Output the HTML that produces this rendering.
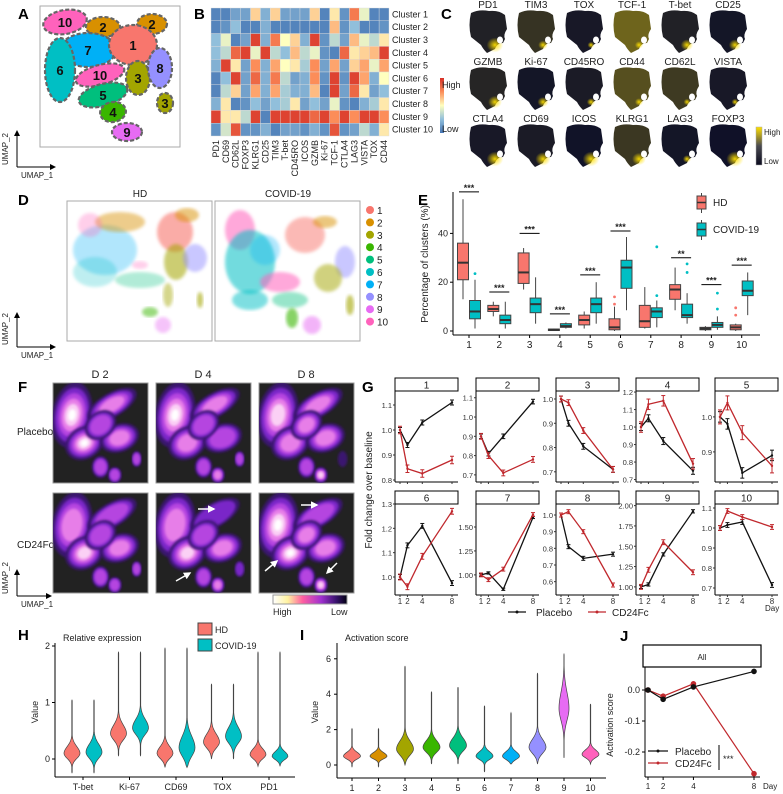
<!DOCTYPE html>
<html><head><meta charset="utf-8">
<style>
html,body{margin:0;padding:0;background:#fff;}
svg{display:block;font-family:"Liberation Sans",Arial,sans-serif;}
</style></head>
<body>
<svg id="fig" width="783" height="794" viewBox="0 0 783 794" xmlns="http://www.w3.org/2000/svg">
<defs>
  <linearGradient id="heatLeg" x1="0" y1="1" x2="0" y2="0">
    <stop offset="0" stop-color="#4575B4"/><stop offset="0.25" stop-color="#91BFDB"/><stop offset="0.5" stop-color="#FFFFBF"/><stop offset="0.75" stop-color="#FC8D59"/><stop offset="1" stop-color="#D73027"/>
  </linearGradient>
  <linearGradient id="featLeg" x1="0" y1="1" x2="0" y2="0">
    <stop offset="0" stop-color="#0a0a1e"/><stop offset="0.5" stop-color="#4a4a50"/><stop offset="1" stop-color="#FFE000"/>
  </linearGradient>
  <linearGradient id="densLeg" x1="0" y1="0" x2="1" y2="0">
    <stop offset="0" stop-color="#ffffff"/><stop offset="0.2" stop-color="#FFF3A0"/><stop offset="0.4" stop-color="#FF5FA0"/><stop offset="0.65" stop-color="#A030D0"/><stop offset="0.85" stop-color="#3A1470"/><stop offset="1" stop-color="#000010"/>
  </linearGradient>
  <radialGradient id="yglow"><stop offset="0" stop-color="#FFE000" stop-opacity="0.95"/><stop offset="1" stop-color="#FFE000" stop-opacity="0"/></radialGradient>
  <filter id="soft"><feGaussianBlur stdDeviation="1.2"/></filter>
  <filter id="soft2"><feGaussianBlur stdDeviation="1.5"/></filter>
  <marker id="arr" markerWidth="6" markerHeight="6" refX="5" refY="3" orient="auto"><path d="M0,0 L6,3 L0,6 Z" fill="#000"/></marker>
  <marker id="warr" markerWidth="5" markerHeight="5" refX="4" refY="2.5" orient="auto"><path d="M0,0 L5,2.5 L0,5 Z" fill="#fff"/></marker>
</defs>
<g id="root"></g>
</svg>
<script>
// ===== DATA =====
const heatRows = ['Cluster 1','Cluster 2','Cluster 3','Cluster 4','Cluster 5','Cluster 6','Cluster 7','Cluster 8','Cluster 9','Cluster 10'];
const heatCols = ['PD1','CD69','CD62L','FOXP3','KLRG1','CD25','TIM3','T-bet','CD45RO','ICOS','GZMB','Ki-67','TCF-1','CTLA4','LAG3','VISTA','TOX','CD44'];
const heatVals = [
 [.05,.05,.15,.15,.6,.2,.6,.15,.15,.15,.6,.05,.55,.1,.8,.45,.05,.05],
 [.05,.1,.25,.05,.05,.2,.05,.05,.05,.05,.05,.05,.65,.1,.25,.05,.05,.1],
 [.25,.45,.05,.15,.95,.2,.8,.5,.6,.2,.95,.1,.35,.15,.65,.45,.35,.55],
 [.25,.35,.85,.95,.45,.95,.35,.25,.65,.35,.45,.1,.05,.85,.55,.6,.65,.95],
 [.2,.95,.55,.15,.75,.2,.7,.5,.55,.3,.75,.15,.7,.15,.6,.7,.45,.7],
 [.05,.25,.95,.15,.85,.2,.8,.35,.15,.2,.75,.1,.95,.1,.95,.7,.2,.5],
 [.05,.35,.6,.15,.7,.2,.7,.3,.2,.2,.65,.05,.95,.15,.85,.55,.15,.25],
 [.2,.55,.05,.1,.25,.15,.25,.3,.55,.15,.25,.15,.45,.1,.05,.2,.3,.55],
 [.95,.55,.55,.35,.95,.05,.95,.95,.95,.95,.85,.95,.75,.95,.75,.95,.95,.75],
 [.1,.4,.9,.1,.1,.2,.05,.15,.15,.1,.2,.1,.9,.1,.15,.35,.2,.55]
];
const featNames = ['PD1','TIM3','TOX','TCF-1','T-bet','CD25','GZMB','Ki-67','CD45RO','CD44','CD62L','VISTA','CTLA4','CD69','ICOS','KLRG1','LAG3','FOXP3'];
const featBase = [0.12,0.25,0.06,0.6,0.12,0.04,0.15,0.04,0.08,0.45,0.3,0.06,0.06,0.08,0.02,0.28,0.04,0.01];
const featHot = [0.9,0.4,0.2,0.3,0.6,0.6,0.7,0.5,0.3,0.3,0.2,0.2,0.9,0.8,0.9,0.7,0.3,0.95];
const boxClusters = ['1','2','3','4','5','6','7','8','9','10'];
const hdLo  = [13,6,17,0,1,0,1,8.5,0,0];
const hdQ1  = [21,8,19.5,0.2,2.5,0.5,1.5,13,0.5,0.5];
const hdMed = [28,9,24,0.5,4.5,1.5,4,17,1,1.5];
const hdQ3  = [36,10.5,32,0.8,6.5,5,10.5,19,1.5,2.5];
const hdHi  = [54,12,34,1,8,10,18,26,2,3];
const cvLo  = [1,1,3,1,3,8.5,1.5,3,0.5,6.5];
const cvQ1  = [5,3,7.5,1.5,7.5,17.5,5.5,5.5,1.5,14.5];
const cvMed = [8,4.5,11,2,11,26,8,6.5,2.5,16.5];
const cvQ3  = [12.5,6.5,13.5,3,13.5,29,9.5,11,3.5,20.5];
const cvHi  = [21,12,22,3.5,20,38.5,12.5,15.5,6,24];
const hdOut = [[],[],[],[],[],[11,14],[],[],[],[6.5,9.5]];
const cvOut = [[23.5],[],[],[],[],[],[14.5,34.5],[24,27.5],[9,15.5],[]];
const sigLabels = ['***','***','***','***','***','***','','**','***','***'];
const sigY = [57,16,40,7,23,41,0,30,19,27];
const eTicks = [0,20,40];
const gDays = [1,2,4,8];
const gPlacebo = [
 [1.0,0.94,1.03,1.11],[0.90,0.81,0.90,1.08],[1.0,0.90,0.805,0.71],[1.0,1.05,0.92,0.75],[1.0,0.98,0.84,0.89],
 [1.0,1.13,1.21,0.975],[1.0,1.02,0.85,1.60],[1.0,0.81,0.74,0.765],[1.0,1.03,1.40,1.93],[1.0,1.015,1.03,0.715]];
const gCD24 = [
 [1.0,0.845,0.826,0.88],[0.90,0.80,0.71,0.78],[1.0,0.985,0.87,0.71],[1.0,1.13,1.15,0.79],[1.0,1.04,0.955,0.86],
 [1.0,0.96,1.085,1.27],[1.0,0.95,1.06,1.63],[1.0,1.02,0.90,0.58],[1.0,1.21,1.55,1.18],[1.0,1.085,1.055,1.005]];
const gErrP = [.01,.012,.012,.02,.015,.01,.012,.012,.02,.012];
const gErrC = [.015,.015,.012,.03,.02,.012,.02,.012,.03,.012];
const gLo = [0.792,0.663,0.658,0.686,0.814,0.926,0.79,0.52,0.90,0.665];
const gHi = [1.156,1.135,1.033,1.206,1.074,1.30,1.74,1.066,2.02,1.12];
const gTicks = [[0.8,0.9,1.0,1.1],[0.7,0.8,0.9,1.0,1.1],[0.7,0.8,0.9,1.0],[0.7,0.8,0.9,1.0,1.1,1.2],[0.9,1.0],
 [1.0,1.1,1.2,1.3],[1.0,1.25,1.5],[0.6,0.7,0.8,0.9,1.0],[1.0,1.25,1.5,1.75,2.0],[0.7,0.8,0.9,1.0,1.1]];
const gTickFmt = [1,1,1,1,1,1,2,1,2,1];
const hGenes = ['T-bet','Ki-67','CD69','TOX','PD1'];
const hHD = [[-0.25,1.05,0.1,0.12],[0.05,1.9,0.45,0.15],[-0.15,1.97,0.1,0.12],[0.0,1.33,0.3,0.14],[-0.13,1.9,0.08,0.1]];
const hCV = [[-0.25,1.05,0.12,0.14],[0.05,1.9,0.55,0.15],[-0.15,1.97,0.2,0.2],[0.0,1.33,0.4,0.16],[-0.13,1.9,0.05,0.08]];
const hTicks = [0,1,2];
const iClusters = ['1','2','3','4','5','6','7','8','9','10'];
const iViol = [[-0.1,2.05,0.5,0.22],[-0.1,2.05,0.5,0.2],[0,5.6,0.9,0.45],[0.05,4.15,1.0,0.38],[0.05,4.4,1.1,0.42],[-0.4,3.35,0.5,0.25],[0.05,2.95,0.5,0.25],[0.05,5.2,1.0,0.45],[0.4,6.3,3.2,0.9],[0.05,3.45,0.6,0.25]];
const iTicks = [0,2,4,6];
const jDays = [1,2,4,8];
const jPlacebo = [0,-0.03,0.01,0.06];
const jCD24 = [0,-0.02,0.02,-0.27];
const jTicks = [0.0,-0.1,-0.2];

const clusterColors = ['#F8766D','#D89000','#A3A500','#39B600','#00BF7D','#00BFC4','#00B0F6','#9590FF','#E76BF3','#FF62BC'];
const NS='http://www.w3.org/2000/svg';
const root=document.getElementById('root');
function mk(tag,attrs,parent){const e=document.createElementNS(NS,tag);for(const k in attrs)e.setAttribute(k,attrs[k]);(parent||root).appendChild(e);return e;}
function txt(s,x,y,attrs,parent){const a=Object.assign({x:x,y:y,'font-size':9,fill:'#222'},attrs||{});const e=mk('text',a,parent);e.textContent=s;return e;}
function letter(s,x,y){const e=txt(s,x,y,{'font-size':15,'font-weight':'bold',fill:'#000'});

}

// ===== Panel A =====
letter('A',18,19);
const gA=mk('g',{});


mk('rect',{x:40,y:6,width:140,height:141,fill:'none',stroke:'#aaa','stroke-width':1},gA);
const aBlobs=[[10,65,22,22,12,-10],[2,103,27,17,10,0],[2,152,24,15,10,0],[7,88,50,28,17,0],[1,133,45,24,20,0],[6,60,70,15,32,0],[10,100,75,25,10,-15],[3,138,78,12,17,0],[8,160,68,12,20,0],[5,103,95,25,11,-15],[4,113,112,13,10,-10],[3,165,103,8,10,0],[9,127,132,15,9,0]];
aBlobs.forEach(b=>{
 const e=mk('ellipse',{cx:b[1],cy:b[2],rx:b[3],ry:b[4],transform:`rotate(${b[5]} ${b[1]} ${b[2]})`,fill:clusterColors[b[0]-1],stroke:'#666','stroke-width':2.2,'stroke-dasharray':'4,2'},gA);
 
 
 txt(String(b[0]),b[1],b[2]+5,{'font-size':13,'font-weight':'bold','text-anchor':'middle',fill:'#111'},gA);
});
function umapAxes(x,y,h,w){
 mk('line',{x1:x,y1:y,x2:x,y2:y-h,stroke:'#000','stroke-width':1,'marker-end':'url(#arr)'});
 mk('line',{x1:x,y1:y,x2:x+w,y2:y,stroke:'#000','stroke-width':1,'marker-end':'url(#arr)'});
 txt('UMAP_1',x+4,y+11,{'font-size':8});
 txt('UMAP_2',x-9,y-2,{'font-size':8,transform:`rotate(-90 ${x-9} ${y-2})`});
}
umapAxes(17,167,36,38);

// ===== Panel B =====
letter('B',194,19);
const gB=mk('g',{});


function heatColor(v){const stops=[[69,117,180],[145,191,219],[255,255,191],[252,141,89],[215,48,39]];const p=Math.max(0,Math.min(1,v))*4;const i=Math.min(3,Math.floor(p));const f=p-i;const a=stops[i],b=stops[i+1];return `rgb(${Math.round(a[0]+(b[0]-a[0])*f)},${Math.round(a[1]+(b[1]-a[1])*f)},${Math.round(a[2]+(b[2]-a[2])*f)})`;}
const hbX=211,hbY=8,hbW=178,hbH=128;
const cw=hbW/heatCols.length,ch=hbH/heatRows.length;
heatVals.forEach((row,r)=>row.forEach((v,c)=>{
 const e=mk('rect',{x:hbX+c*cw,y:hbY+r*ch,width:cw,height:ch,fill:heatColor(v),stroke:'#ddd','stroke-width':0.4},gB);
 
 
}));
heatRows.forEach((s,r)=>txt(s,hbX+hbW+3,hbY+r*ch+ch/2+3,{'font-size':9},gB));
heatCols.forEach((s,c)=>{const x=hbX+c*cw+cw/2+3,y=hbY+hbH+4;txt(s,x,y,{'font-size':9,'text-anchor':'end',transform:`rotate(-90 ${x} ${y})`},gB);});
mk('rect',{x:440,y:78,width:4,height:55,fill:'url(#heatLeg)'},gB);
txt('High',442,88,{'font-size':9},gB);
txt('Low',442,132,{'font-size':9},gB);

// ===== Panel C =====
letter('C',441,19);
const gC=mk('g',{});


const shape='M4,4 Q12,0 22,2 Q32,1 38,6 L40,20 Q36,26 38,30 L36,34 Q30,34 28,40 L20,44 Q16,40 14,36 L4,28 Q1,16 4,4 Z';
featNames.forEach((n,i)=>{
 const col=i%6,row=Math.floor(i/6);
 const x=467+col*48,y=9+row*57;
 const g=mk('g',{transform:`translate(${x},${y})`},gC);
 
 
 const b=featBase[i];
 const base=`rgb(${Math.round(14+b*160)},${Math.round(16+b*140)},${Math.round(40-b*20)})`;
 mk('path',{d:shape,fill:base},g);
 mk('ellipse',{cx:28,cy:36,rx:7*featHot[i]+2,ry:6*featHot[i]+2,fill:'url(#yglow)'},g);
 mk('ellipse',{cx:33,cy:31,rx:3,ry:3.5,fill:'#fff'},g);
 txt(n,x+21,y-1,{'font-size':10,'text-anchor':'middle'},gC);
});
mk('rect',{x:756,y:127,width:6,height:38,fill:'url(#featLeg)',stroke:'#aaa','stroke-width':0.5},gC);
txt('High',764,135,{'font-size':8},gC);
txt('Low',764,164,{'font-size':8},gC);

// ===== Panel D =====
letter('D',18,205);
const gD=mk('g',{});


mk('rect',{x:67,y:201,width:145,height:140,fill:'none',stroke:'#aaa'},gD);
mk('rect',{x:215,y:201,width:145,height:140,fill:'none',stroke:'#aaa'},gD);
txt('HD',140,197,{'font-size':10,'text-anchor':'middle'},gD);
txt('COVID-19',288,197,{'font-size':10,'text-anchor':'middle'},gD);
const dBlobs=[
 [7,105,250,32,25,0.3],[6,95,272,22,15,0.25],[2,120,222,25,10,0.45],[10,90,225,12,12,0.3],
 [1,175,232,18,20,0.6],[2,187,215,12,7,0.5],[3,176,262,12,18,0.55],[3,168,295,5,12,0.45],[8,195,258,12,14,0.5],
 [5,140,280,25,8,0.3],[10,140,265,8,4,0.3],[4,150,312,8,5,0.5],[9,163,325,8,8,0.4],[3,200,300,3,8,0.6],
 [10,240,230,15,20,0.55],[6,250,262,25,32,0.55],[7,265,250,15,15,0.3],[1,305,235,20,18,0.5],[2,325,222,12,6,0.5],
 [8,345,262,10,16,0.5],[3,328,278,14,14,0.5],[10,280,282,20,10,0.55],[6,250,300,18,10,0.5],[5,290,300,18,8,0.4],
 [4,292,318,6,10,0.6],[9,312,325,9,9,0.5],[3,350,305,4,10,0.6]];
dBlobs.forEach(b=>{
 const e=mk('ellipse',{cx:b[1],cy:b[2],rx:b[3],ry:b[4],fill:clusterColors[b[0]-1],opacity:b[5],filter:'url(#soft2)'},gD);
 
 
});
for(let i=0;i<10;i++){
 const y=210+i*12.4;
 const d=mk('circle',{cx:370,cy:y,r:4,fill:clusterColors[i]},gD);
 
 
 txt(String(i+1),377,y+4,{'font-size':10},gD);
}
umapAxes(17,347,34,38);

// ===== Panel E =====
letter('E',418,205);
const gE=mk('g',{});


const eY=v=>331-v*2.44, eX=i=>469+i*30.3;
mk('line',{x1:453,y1:192,x2:453,y2:335,stroke:'#000'},gE);
mk('line',{x1:453,y1:335,x2:760,y2:335,stroke:'#000'},gE);
eTicks.forEach(t=>{mk('line',{x1:450,y1:eY(t),x2:453,y2:eY(t),stroke:'#000'},gE);txt(String(t),448,eY(t)+3,{'text-anchor':'end','font-size':9},gE);});
const ey=txt('Percentage of clusters (%)',428,264,{'font-size':10,'text-anchor':'middle',transform:'rotate(-90 428 264)'},gE);


function drawBox(cx,lo,q1,md,q3,hi,outs,fill,oc,nm){
 mk('line',{x1:cx,y1:eY(lo),x2:cx,y2:eY(hi),stroke:'#444','stroke-width':1},gE);
 const r=mk('rect',{x:cx-5.5,y:eY(q3),width:11,height:Math.max(1,eY(q1)-eY(q3)),fill:fill,stroke:'#444','stroke-width':1},gE);
 
 
 mk('line',{x1:cx-5.5,y1:eY(md),x2:cx+5.5,y2:eY(md),stroke:'#333','stroke-width':2},gE);
 outs.forEach(o=>mk('circle',{cx:cx,cy:eY(o),r:1.4,fill:oc},gE));
}
boxClusters.forEach((c,i)=>{
 drawBox(eX(i)-6,hdLo[i],hdQ1[i],hdMed[i],hdQ3[i],hdHi[i],hdOut[i],'#F8766D','#F8766D','box-hd-'+c);
 drawBox(eX(i)+6,cvLo[i],cvQ1[i],cvMed[i],cvQ3[i],cvHi[i],cvOut[i],'#00BFC4','#00BFC4','box-covid-'+c);
 mk('line',{x1:eX(i),y1:335,x2:eX(i),y2:338,stroke:'#000'},gE);
 txt(c,eX(i),348,{'font-size':10,'text-anchor':'middle'},gE);
 if(sigLabels[i]){mk('line',{x1:eX(i)-10,y1:eY(sigY[i]),x2:eX(i)+10,y2:eY(sigY[i]),stroke:'#000'},gE);
  txt(sigLabels[i],eX(i),eY(sigY[i])-1,{'font-size':9,'text-anchor':'middle','font-weight':'bold'},gE);}
});
[['HD','#F8766D',196],['COVID-19','#00BFC4',223]].forEach(l=>{
 mk('line',{x1:701.5,y1:l[2]-3,x2:701.5,y2:l[2]+17,stroke:'#444'},gE);
 const r=mk('rect',{x:697,y:l[2],width:9,height:13,fill:l[1],stroke:'#444'},gE);
 
 
 mk('line',{x1:697,y1:l[2]+6.5,x2:706,y2:l[2]+6.5,stroke:'#333','stroke-width':1.5},gE);
 txt(l[0],713,l[2]+10,{'font-size':10},gE);
});

// ===== Panel F =====
letter('F',18,392);
const gF=mk('g',{});


const fBlobs=[[0.2,0.32,0.2,0.32,10],[0.62,0.22,0.28,0.11,-30],[0.33,0.6,0.2,0.15,-30],[0.7,0.55,0.2,0.13,-20],[0.5,0.42,0.17,0.12,-40],[0.5,0.84,0.08,0.1,0],[0.65,0.92,0.06,0.07,0],[0.88,0.76,0.04,0.07,0]];
const fInt=[
 [[6,4,6,4,3,3,3,3],[6,4,4,3,3,3,4,3],[5,4,4,4,4,3,5,1]],
 [[4,3,5,4,3,3,3,3],[4,2,5,4,3,3,4,2],[6,3,6,4,4,3,5,0]]];
const fLayers=['#3A1470','#7A28C8','#B545E0','#E77EE8','#FBD0F5','#FFFFFF'];
const fCols=[53,156,259],fRows=[383,493];
['D 2','D 4','D 8'].forEach((d,c)=>txt(d,fCols[c]+47,378,{'font-size':11,'text-anchor':'middle'},gF));
txt('Placebo',17,435,{'font-size':10},gF);
txt('CD24Fc',17,548,{'font-size':10},gF);
fRows.forEach((ry,r)=>fCols.forEach((cx,c)=>{
 const g=mk('g',{},gF);
 
 
 mk('rect',{x:cx,y:ry,width:95,height:100,fill:'#222',stroke:'#999'},g);
 const cp=mk('clipPath',{id:`fc${r}${c}`},g);mk('rect',{x:cx,y:ry,width:95,height:100},cp);
 const gg=mk('g',{'clip-path':`url(#fc${r}${c})`},g);
 fBlobs.forEach((b,k)=>{const n=fInt[r][c][k];for(let L=0;L<n;L++){const s=1-L*0.17;
  mk('ellipse',{cx:cx+b[0]*95,cy:ry+b[1]*100,rx:b[2]*95*s+1,ry:b[3]*100*s+1,fill:fLayers[L],transform:`rotate(${b[4]} ${cx+b[0]*95} ${ry+b[1]*100})`,filter:'url(#soft)'},gg);}});
}));
[[156+42,493+16,156+58,493+16],[156+20,493+88,156+34,493+80],[259+42,493+12,259+58,493+12],[259+6,493+78,259+18,493+68],[259+78,493+70,259+68,493+80]].forEach(a=>{
 const l=mk('line',{x1:a[0],y1:a[1],x2:a[2],y2:a[3],stroke:'#fff','stroke-width':1.5,'marker-end':'url(#warr)'},gF);
 
 
});
mk('rect',{x:273,y:595,width:74,height:9,fill:'url(#densLeg)',stroke:'#999'},gF);
txt('High',273,615,{'font-size':9},gF);
txt('Low',331,615,{'font-size':9},gF);
umapAxes(17,596,26,34);

// ===== Panel G =====
letter('G',362,392);
const gG=mk('g',{});


const gLefts=[395,476,556,636,715],gW=63;
const gyt=txt('Fold change over baseline',372,490,{'font-size':10,'text-anchor':'middle',transform:'rotate(-90 372 490)'},gG);


for(let p=0;p<10;p++){
 const col=p%5,row=Math.floor(p/5);
 const L=gLefts[col],R=L+gW,sT=row?491:378,T=row?504:391,B=row?595:482;
 const g=mk('g',{},gG);
 
 
 mk('rect',{x:L,y:sT,width:gW,height:T-sT,fill:'#fff',stroke:'#000'},g);
 txt(String(p+1),(L+R)/2,T-2.5,{'font-size':10,'text-anchor':'middle'},g);
 mk('line',{x1:L,y1:T,x2:L,y2:B,stroke:'#000'},g);
 mk('line',{x1:L,y1:B,x2:R,y2:B,stroke:'#000'},g);
 const xs=d=>L+5+(d-1)/7*(gW-11);
 const ys=v=>B-(v-gLo[p])/(gHi[p]-gLo[p])*(B-T);
 gTicks[p].forEach(t=>{mk('line',{x1:L-2,y1:ys(t),x2:L,y2:ys(t),stroke:'#333'},g);
  txt(t.toFixed(gTickFmt[p]),L-3,ys(t)+3,{'font-size':7.5,'text-anchor':'end',fill:'#333'},g);});
 gDays.forEach(d=>{mk('line',{x1:xs(d),y1:B,x2:xs(d),y2:B+2,stroke:'#333'},g);
  if(row)txt(String(d),xs(d),B+9,{'font-size':8,'text-anchor':'middle',fill:'#333'},g);});
 [[gPlacebo[p],gErrP[p],'#111','placebo'],[gCD24[p],gErrC[p],'#C0282D','cd24fc']].forEach(s=>{
  const pl=mk('polyline',{points:s[0].map((v,i)=>xs(gDays[i])+','+ys(v)).join(' '),fill:'none',stroke:s[2],'stroke-width':1.3},g);
  
  
  s[0].forEach((v,i)=>{const x=xs(gDays[i]);
   mk('line',{x1:x,y1:ys(v-s[1]),x2:x,y2:ys(v+s[1]),stroke:s[2]},g);
   mk('line',{x1:x-2,y1:ys(v-s[1]),x2:x+2,y2:ys(v-s[1]),stroke:s[2]},g);
   mk('line',{x1:x-2,y1:ys(v+s[1]),x2:x+2,y2:ys(v+s[1]),stroke:s[2]},g);
   mk('circle',{cx:x,cy:ys(v),r:1.2,fill:s[2]},g);});
 });
}
txt('Day',765,611,{'font-size':8},gG);
const lg=mk('g',{},gG);


mk('line',{x1:508,y1:612,x2:526,y2:612,stroke:'#111','stroke-width':1.3},lg);mk('circle',{cx:517,cy:612,r:1.5,fill:'#111'},lg);
txt('Placebo',536,616,{'font-size':10},lg);
mk('line',{x1:588,y1:612,x2:606,y2:612,stroke:'#C0282D','stroke-width':1.3},lg);mk('circle',{cx:597,cy:612,r:1.5,fill:'#C0282D'},lg);
txt('CD24Fc',612,616,{'font-size':10},lg);

// ===== violin helper =====
function violin(g,cx,ys,spec,maxW,fill){
 const [mn,mx,mode,sp]=spec;const N=60;const right=[],left=[];
 for(let k=0;k<=N;k++){const v=mn+(mx-mn)*k/N;const s=v<mode?sp*0.75:sp;
  let w=Math.exp(-0.5*Math.pow((v-mode)/s,2));w=Math.max(w,0.03);
  if(k===0||k===N)w=0;
  right.push((cx+w*maxW)+','+ys(v));left.unshift((cx-w*maxW)+','+ys(v));}
 return mk('polygon',{points:right.concat(left).join(' '),fill:fill,stroke:'#444','stroke-width':0.7},g);
}

// ===== Panel H =====
letter('H',18,640);
const gH=mk('g',{});


const hY=v=>759-v*56.5, hX=i=>83+i*46.5;
mk('line',{x1:55,y1:643,x2:55,y2:777,stroke:'#000'},gH);
mk('line',{x1:55,y1:777,x2:295,y2:777,stroke:'#000'},gH);
hTicks.forEach(t=>{mk('line',{x1:52,y1:hY(t),x2:55,y2:hY(t),stroke:'#000'},gH);txt(String(t),50,hY(t)+3,{'font-size':9,'text-anchor':'end'},gH);});
txt('Value',38,712,{'font-size':9,'text-anchor':'middle',transform:'rotate(-90 38 712)'},gH);
txt('Relative expression',63,641,{'font-size':9},gH);
hGenes.forEach((gn,i)=>{
 const a=violin(gH,hX(i)-11,hY,hHD[i],8,'#F8766D');
 
 
 const b=violin(gH,hX(i)+11,hY,hCV[i],8,'#00BFC4');
 
 
 mk('line',{x1:hX(i),y1:777,x2:hX(i),y2:780,stroke:'#000'},gH);
 txt(gn,hX(i),790,{'font-size':9,'text-anchor':'middle'},gH);
});
[['HD','#F8766D',623],['COVID-19','#00BFC4',639]].forEach(l=>{
 const r=mk('rect',{x:198,y:l[2],width:14,height:12,fill:l[1],stroke:'#444'},gH);
 
 
 txt(l[0],215,l[2]+10,{'font-size':9},gH);
});

// ===== Panel I =====
letter('I',300,640);
const gI=mk('g',{});


const iY=v=>765-v*17.7, iX=i=>352+i*26.5;
mk('line',{x1:337,y1:643,x2:337,y2:778,stroke:'#000'},gI);
mk('line',{x1:337,y1:778,x2:606,y2:778,stroke:'#000'},gI);
iTicks.forEach(t=>{mk('line',{x1:334,y1:iY(t),x2:337,y2:iY(t),stroke:'#000'},gI);txt(String(t),331,iY(t)+3,{'font-size':9,'text-anchor':'end'},gI);});
txt('Value',318,712,{'font-size':9,'text-anchor':'middle',transform:'rotate(-90 318 712)'},gI);
txt('Activation score',345,641,{'font-size':9},gI);
iClusters.forEach((c,i)=>{
 const v=violin(gI,iX(i),iY,iViol[i],i===8?5:8.5,clusterColors[i]);
 
 
 mk('line',{x1:iX(i),y1:778,x2:iX(i),y2:781,stroke:'#000'},gI);
 txt(c,iX(i),791,{'font-size':9,'text-anchor':'middle'},gI);
});

// ===== Panel J =====
letter('J',620,641);
const gJ=mk('g',{});


const jX=d=>648+(d-1)/7*106, jY=v=>690-v*310;
mk('rect',{x:643,y:645,width:118,height:22,fill:'#fff',stroke:'#000','stroke-width':1.2},gJ);
txt('All',702,660,{'font-size':8,'text-anchor':'middle'},gJ);
mk('line',{x1:645,y1:667,x2:645,y2:777,stroke:'#000'},gJ);
mk('line',{x1:645,y1:777,x2:760,y2:777,stroke:'#000'},gJ);
jTicks.forEach(t=>{mk('line',{x1:642,y1:jY(t),x2:645,y2:jY(t),stroke:'#000'},gJ);txt(t.toFixed(1),640,jY(t)+3,{'font-size':9,'text-anchor':'end'},gJ);});
jDays.forEach(d=>{mk('line',{x1:jX(d),y1:777,x2:jX(d),y2:780,stroke:'#000'},gJ);txt(String(d),jX(d),789,{'font-size':8,'text-anchor':'middle'},gJ);});
txt('Day',763,789,{'font-size':8},gJ);
txt('Activation score',613,725,{'font-size':9,'text-anchor':'middle',transform:'rotate(-90 613 725)'},gJ);
[[jCD24,'#C0282D','cd24fc'],[jPlacebo,'#111','placebo']].forEach(s=>{
 const pl=mk('polyline',{points:s[0].map((v,i)=>jX(jDays[i])+','+jY(v)).join(' '),fill:'none',stroke:s[1],'stroke-width':1.2},gJ);
 
 
 s[0].forEach((v,i)=>{const c=mk('circle',{cx:jX(jDays[i]),cy:jY(v),r:2.8,fill:s[1]},gJ);
  
  });
});
mk('line',{x1:648,y1:751,x2:668,y2:751,stroke:'#111','stroke-width':1.2},gJ);mk('circle',{cx:658,cy:751,r:1.5,fill:'#111'},gJ);
txt('Placebo',675,755,{'font-size':10},gJ);
mk('line',{x1:648,y1:763,x2:668,y2:763,stroke:'#C0282D','stroke-width':1.2},gJ);mk('circle',{cx:658,cy:763,r:1.5,fill:'#C0282D'},gJ);
txt('CD24Fc',675,767,{'font-size':10},gJ);
mk('line',{x1:719,y1:745,x2:719,y2:770,stroke:'#000'},gJ);
txt('***',723,762,{'font-size':9},gJ);
</script>
</body></html>
